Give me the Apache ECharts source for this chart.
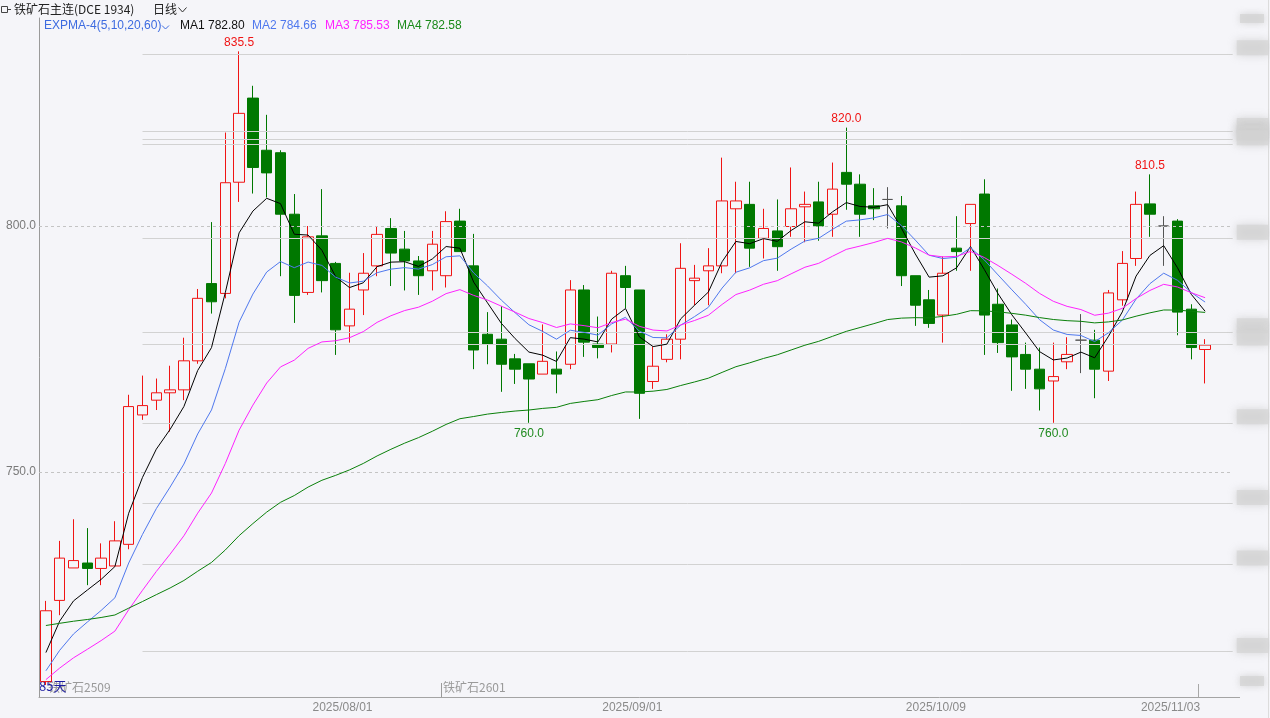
<!DOCTYPE html>
<html><head><meta charset="utf-8">
<script src="https://cdn.jsdelivr.net/npm/echarts@6/dist/echarts.min.js"></script>
<style>html,body{margin:0;padding:0;background:#f5f5f9}#c{width:1270px;height:718px}</style>
</head><body><div id="c"></div><script>
const dates = [
'2025/07/02','2025/07/03','2025/07/04','2025/07/07','2025/07/08','2025/07/09','2025/07/10','2025/07/11',
'2025/07/14','2025/07/15','2025/07/16','2025/07/17','2025/07/18','2025/07/21','2025/07/22','2025/07/23',
'2025/07/24','2025/07/25','2025/07/28','2025/07/29','2025/07/30','2025/07/31',
'2025/08/01','2025/08/04','2025/08/05','2025/08/06','2025/08/07','2025/08/08','2025/08/11','2025/08/12',
'2025/08/13','2025/08/14','2025/08/15','2025/08/18','2025/08/19','2025/08/20','2025/08/21','2025/08/22',
'2025/08/25','2025/08/26','2025/08/27','2025/08/28','2025/08/29',
'2025/09/01','2025/09/02','2025/09/03','2025/09/04','2025/09/05','2025/09/08','2025/09/09','2025/09/10',
'2025/09/11','2025/09/12','2025/09/15','2025/09/16','2025/09/17','2025/09/18','2025/09/19','2025/09/22',
'2025/09/23','2025/09/24','2025/09/25','2025/09/26','2025/09/29','2025/09/30',
'2025/10/09','2025/10/10','2025/10/13','2025/10/14','2025/10/15','2025/10/16','2025/10/17','2025/10/20',
'2025/10/21','2025/10/22','2025/10/23','2025/10/24','2025/10/27','2025/10/28','2025/10/29','2025/10/30',
'2025/10/31','2025/11/03','2025/11/04','2025/11/05'];
const opens = [707.4,723.9,730.5,731.5,730.4,730.9,735.3,761.6,764.6,766.1,766.7,772.6,788.3,786.3,808.9,826.0,815.4,814.9,802.4,786.5,
798.0,792.4,779.7,787.0,791.9,799.5,795.3,792.9,790.9,789.9,801.0,791.9,778.0,777.0,773.0,772.0,769.9,770.9,771.9,787.0,
776.0,776.0,789.9,787.0,768.4,772.9,777.0,788.9,790.9,791.9,803.5,804.4,797.5,799.0,799.9,803.9,804.9,802.4,810.9,808.5,
804.1,805.4,804.1,789.9,785.0,781.9,795.5,800.5,806.5,784.1,779.9,773.9,770.9,768.5,772.4,776.8,776.8,770.5,785.0,793.4,
804.5,800.0,801.0,783.1,774.9];
const closes = [721.8,732.5,732.0,730.4,732.5,736.0,763.3,763.5,766.1,766.7,772.6,785.3,784.6,808.8,822.9,811.9,810.8,802.4,785.9,797.8,
788.9,778.9,783.1,790.4,798.3,794.5,792.9,789.9,796.3,800.9,794.8,774.8,776.0,771.9,770.9,768.9,772.5,769.9,787.0,776.4,
775.3,790.4,787.5,766.0,771.5,777.0,791.4,789.4,791.9,805.1,805.1,795.5,799.5,795.8,803.5,804.4,800.0,807.5,808.5,802.4,
803.5,805.4,789.9,783.9,780.2,790.4,794.8,804.4,781.9,776.3,773.4,770.9,766.9,769.4,773.9,776.8,770.9,786.4,792.4,804.4,
802.4,800.0,782.5,775.3,775.8];
const lows = [706.7,720.9,730.5,727.0,727.0,730.9,734.3,760.6,762.6,758.2,764.6,772.0,782.2,785.3,804.9,806.6,805.8,789.8,780.3,786.0,
786.5,773.8,776.3,781.9,789.8,787.8,786.9,786.0,786.9,787.5,794.8,770.9,771.9,766.3,767.9,760.0,769.9,766.0,770.9,773.4,
773.1,774.3,783.3,760.8,766.9,772.3,772.9,783.9,783.9,790.4,790.4,791.7,793.4,790.9,797.8,796.7,797.0,797.8,803.3,797.8,
801.2,799.5,787.8,779.7,779.3,776.3,790.9,790.9,773.8,774.2,766.5,766.9,762.5,760.0,770.9,770.1,765.0,768.5,783.8,791.9,
797.8,791.9,777.8,772.9,768.0];
const highs = [723.8,736.0,740.4,738.6,735.5,740.0,765.7,769.6,769.0,771.6,777.3,787.2,800.8,819.0,835.5,828.5,822.6,815.4,806.5,800.0,
807.5,792.7,790.5,794.5,800.0,801.6,799.0,793.9,799.0,803.0,803.5,798.4,782.5,783.7,774.0,772.0,780.0,774.5,789.0,788.0,
781.6,790.9,791.9,787.0,775.5,778.0,796.5,792.1,795.5,813.9,809.0,809.0,803.5,805.4,811.9,807.0,809.0,812.9,820.0,810.5,
807.7,807.9,806.1,789.9,787.0,793.8,802.0,804.4,809.5,787.3,781.0,776.3,775.3,776.3,777.4,782.1,778.9,787.0,794.9,807.0,
810.5,802.0,801.4,784.1,777.0];
const maNames = ['MA1','MA2','MA3','MA4'];
const maPeriods = [5,10,20,60];
const maSeeds = [713.3,709.6,707.8,718.8];
const maHeaderValues = ['782.80','784.66','785.53','782.58'];
const refLines = [835.0,819.2,817.7,816.7,797.5,778.5,776.0,760.0,743.6,731.3,713.5];
const yTicks = [750,800];
const xLabelDates = ['2025/08/01','2025/09/01','2025/10/09','2025/11/03'];
const extremes = [[14,835.5,'high'],[58,820.0,'high'],[80,810.5,'high'],[35,760.0,'low'],[73,760.0,'low']];

const FONT = "'Liberation Sans','Noto Sans CJK SC',sans-serif";
const CJK = "'Noto Sans CJK SC',sans-serif";
const maColors = ['#000000','#4f78ee','#ff22ff','#0a800a'];
const UP = '#f01414', DOWN = '#007800';

function expma(vals, n, seed){
  const k = 2/(n+1); let e = seed;
  return vals.map((v,i)=>{ if(i>0) e = e + k*(v-e); return +e.toFixed(2); });
}

const categories = dates.concat(['','']);
const kData = dates.map((d,i)=>[opens[i],closes[i],lows[i],highs[i]]);

const chart = echarts.init(document.getElementById('c'), null, {renderer:'canvas'});

const maSeries = maPeriods.map((p,j)=>({
  type:'line', name:maNames[j], data: expma(closes,p,maSeeds[j]), symbol:'none', z:5,
  lineStyle:{color:maColors[j], width:1}, animation:false, silent:true
}));

const blurBox = {fill:'rgba(212,212,212,0.75)', shadowBlur:7, shadowColor:'rgba(200,200,200,1)'};

const refSeries = {
  type:'line', data:[], z:1, silent:true, animation:false,
  markLine:{
    silent:true, symbol:['none','none'], animation:false,
    data: refLines.map(v=>[
      {coord:[7,v], lineStyle:{color:'#d2d2d2', width:1, type:'solid'},
       label:{show:true, position:'end', formatter: v.toFixed(1), fontSize:11, fontFamily:FONT,
        color:'rgba(0,0,0,0)', backgroundColor:'rgba(212,212,212,0.7)', padding:[2,2],
        shadowBlur:8, shadowColor:'rgba(200,200,200,1)', distance:4, offset:[0,-6]}},
      {coord:[86,v]}
    ]).concat(yTicks.map(v=>[
      {coord:[0,v], x:39, lineStyle:{color:'#c4c4c4', width:1, type:[3,3]},
       label:{show:true, position:'start', formatter: v.toFixed(1), fontSize:12, fontFamily:FONT, color:'#7a7a7a', distance:3}},
      {coord:[86,v]}
    ]))
  }
};

const option = {
  backgroundColor:'#f5f5f9',
  animation:false,
  grid:{left:39, right:30.4, top:18, bottom:21, containLabel:false},
  xAxis:{
    type:'category', data:categories, boundaryGap:true,
    axisLine:{show:true, onZero:false, lineStyle:{color:'#a4a4a4', width:1}},
    axisTick:{show:false},
    axisLabel:{interval:(idx,val)=>xLabelDates.indexOf(val)>=0, color:'#8a8a8a', fontSize:12, fontFamily:FONT,
      margin:5, padding:[0,14,0,0]},
    splitLine:{show:false}
  },
  yAxis:{
    type:'value', min:704.27, max:842.28, scale:true,
    axisLine:{show:true, lineStyle:{color:'#9a9a9a', width:1}},
    axisTick:{show:false}, axisLabel:{show:false}, splitLine:{show:false}
  },
  series:[
    refSeries,
    {
      type:'candlestick', data:kData, barWidth:11, z:3,
      itemStyle:{color:'rgba(0,0,0,0)', color0:DOWN, borderColor:UP, borderColor0:DOWN, borderColorDoji:'#555', borderWidth:1},
      markPoint:{
        silent:true, animation:false, symbol:'circle', symbolSize:1,
        itemStyle:{color:'rgba(0,0,0,0)'},
        data: extremes.map(e=>({coord:[e[0],e[1]], value:e[1],
          label:{show:true, position: e[2]==='high'?'top':'bottom', distance: e[2]==='high'?2:4,
            formatter: e[1].toFixed(1), fontSize:12, fontFamily:FONT, color: e[2]==='high'?'#f01414':'#1f8a1f'}}))
      }
    }
  ].concat(maSeries),
  graphic:[
    {type:'rect', shape:{x:1.5,y:6.5,width:6,height:6}, style:{fill:'none', stroke:'#444', lineWidth:1}},
    {type:'line', shape:{x1:7.5,y1:9.5,x2:11,y2:9.5}, style:{stroke:'#444', lineWidth:1}},
    {type:'text', left:14, top:3, style:{text:'铁矿石主连(DCE 1934)', fontSize:12, fontFamily:CJK, fill:'#222'}},
    {type:'text', left:153, top:3, style:{text:'日线', fontSize:12, fontFamily:CJK, fill:'#222'}},
    {type:'polyline', shape:{points:[[178.5,7.5],[182.5,12],[186.5,7.5]]}, style:{stroke:'#333', lineWidth:1, fill:'none'}},
    {type:'text', left:44, top:20, style:{text:'EXPMA-4(5,10,20,60)', fontSize:12, fontFamily:FONT, fill:'#3d6be0'}},
    {type:'polyline', shape:{points:[[162,25.5],[165.5,29],[169,25.5]]}, style:{stroke:'#3d6be0', lineWidth:1, fill:'none'}},
    {type:'text', left:180, top:20, style:{text:maNames[0]+' '+maHeaderValues[0], fontSize:12, fontFamily:FONT, fill:'#111'}},
    {type:'text', left:252, top:20, style:{text:maNames[1]+' '+maHeaderValues[1], fontSize:12, fontFamily:FONT, fill:'#4f78ee'}},
    {type:'text', left:325, top:20, style:{text:maNames[2]+' '+maHeaderValues[2], fontSize:12, fontFamily:FONT, fill:'#ff22ff'}},
    {type:'text', left:397, top:20, style:{text:maNames[3]+' '+maHeaderValues[3], fontSize:12, fontFamily:FONT, fill:'#1a8a1a'}},
    {type:'text', left:48, top:681, style:{text:'铁矿石2509', fontSize:12, fontFamily:CJK, fill:'#9a9a9a'}},
    {type:'text', left:39, top:680, style:{text:'85天', fontSize:13, fontFamily:CJK, fill:'#1c1ca0'}},
    {type:'line', shape:{x1:441.5,y1:683,x2:441.5,y2:697}, style:{stroke:'#9a9a9a', lineWidth:1}},
    {type:'text', left:443, top:681, style:{text:'铁矿石2601', fontSize:12, fontFamily:CJK, fill:'#9a9a9a'}},
    {type:'line', shape:{x1:1198.5,y1:684,x2:1198.5,y2:697}, style:{stroke:'#a8a8a8', lineWidth:1}},
    {type:'rect', shape:{x:1240,y:14,width:24,height:9}, style:blurBox},
    {type:'rect', shape:{x:1240,y:676,width:24,height:10}, style:blurBox},
    {type:'line', shape:{x1:1268.5,y1:0,x2:1268.5,y2:718}, style:{stroke:'#dcdcdc', lineWidth:1}}
  ]
};
chart.setOption(option);
</script></body></html>
